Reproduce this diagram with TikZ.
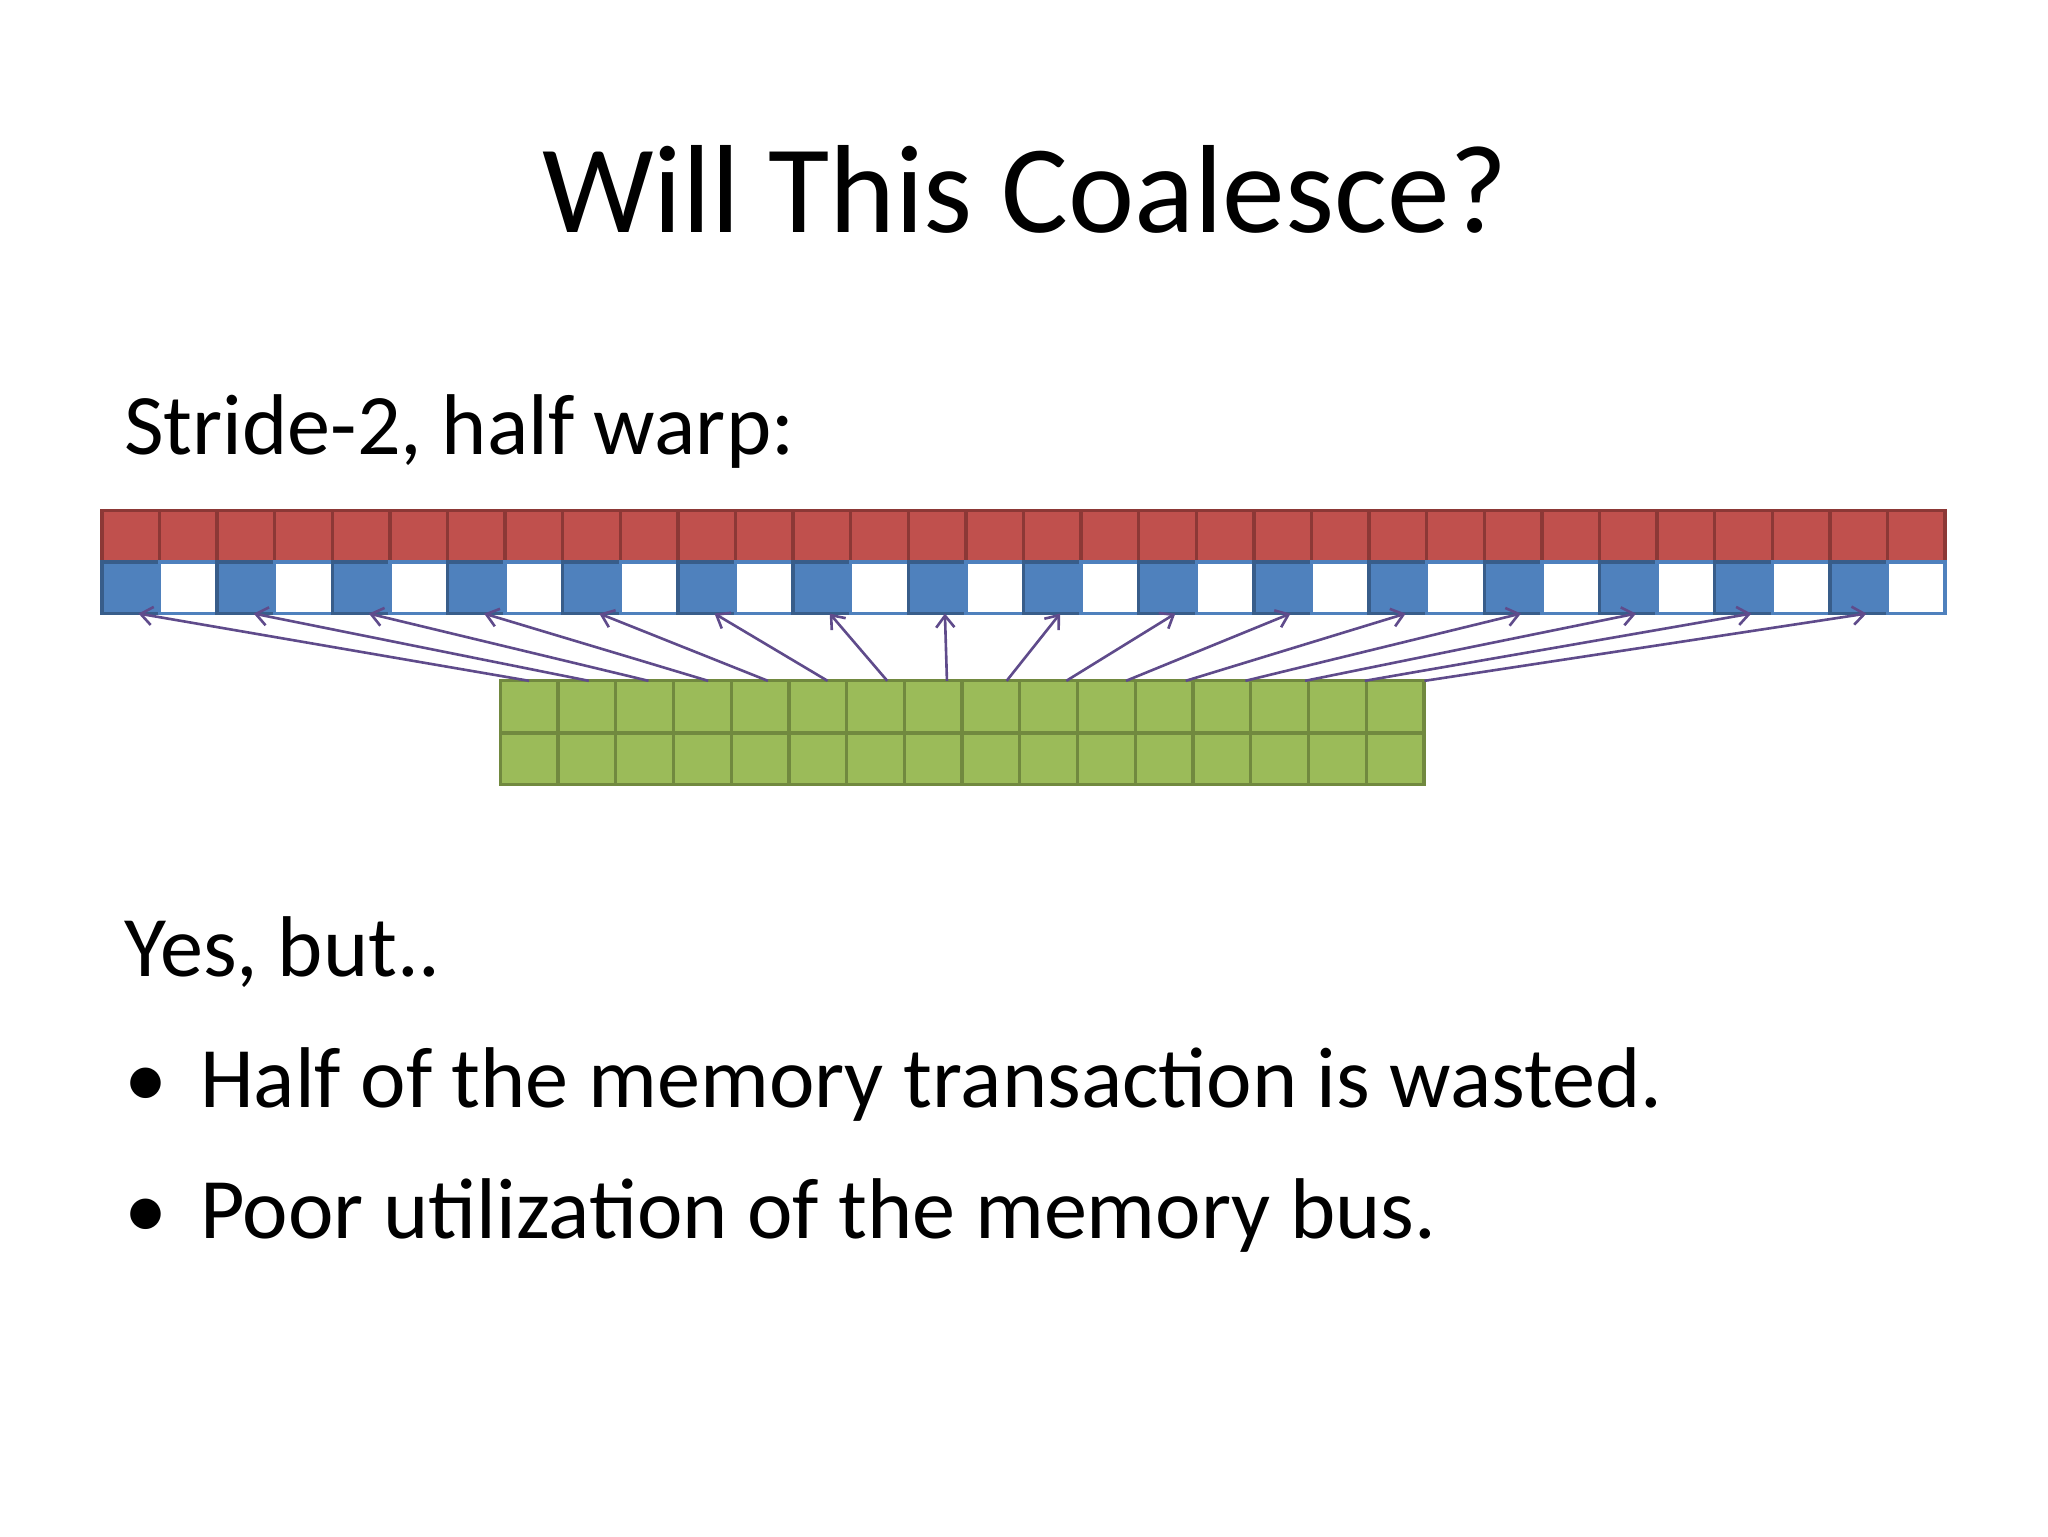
\documentclass[tikz,border=0pt]{standalone}
\usepackage{fontspec}
\setmainfont{Carlito}
\usetikzlibrary{arrows.meta}
\definecolor{redc}{HTML}{C0504D}\definecolor{redd}{HTML}{8C3836}
\definecolor{bluec}{HTML}{4F81BD}\definecolor{blued}{HTML}{385D8A}
\definecolor{greenc}{HTML}{9BBB59}\definecolor{greend}{HTML}{71893F}
\definecolor{arr}{HTML}{5F4B8B}
\tikzset{cell/.style={draw, line width=2.5pt, minimum width=44.1pt, minimum height=39.5pt, inner sep=0, outer sep=0},
 redcell/.style={cell, fill=redc, draw=redd},
 bluecell/.style={cell, fill=bluec, draw=blued},
 whitecell/.style={cell, fill=white, draw=bluec},
 greencell/.style={cell, fill=greenc, draw=greend, minimum width=44.2pt},
 arrow/.style={draw=arr, line width=2pt, -{Straight Barb[length=9pt,width=14pt]}},
 txt/.style={anchor=base west, inner sep=0, font=\fontsize{66}{80}\selectfont}}
\begin{document}
\begin{tikzpicture}[x=1pt,y=-1pt]
\useasboundingbox (0,0) rectangle (1568,1176);
\fill[white] (0,0) rectangle (1568,1176);
\node[inner sep=0, anchor=base, font=\fontsize{96}{110}\selectfont] (title) at (785,178) {Will This Coalesce?};
\node[txt] (sub) at (95,348) {Stride-2, half warp:};
\foreach \i in {0,...,31}{
  \node[redcell] (r\i) at ({78+22.05+44.1*\i},410.5) {};
  \pgfmathparse{int(mod(\i,2))}
  \ifnum\pgfmathresult=0
    \node[bluecell] (b\i) at ({78+22.05+44.1*\i},450) {};
  \else
    \node[whitecell] (b\i) at ({78+22.05+44.1*\i},450) {};
  \fi
}
\foreach \i in {0,...,15}{
  \node[greencell] (g\i) at ({383+22.1+44.2*\i},541) {};
  \node[greencell] (h\i) at ({383+22.1+44.2*\i},581) {};
}
\foreach \i in {0,...,15}{
  \pgfmathtruncatemacro\j{2*\i}
  \draw[arrow] ([xshift=-22.1pt+\i*1.5pt]g\i.north east) -- ([xshift=6pt]b\j.south);
}
\node[txt] (yes) at (95,748) {Yes, but..};
\node[txt] (b1) at (95,848) {•};
\node[txt] (l1) at (153,848) {Half of the memory transaction is wasted.};
\node[txt] (b2) at (95,948) {•};
\node[txt] (l2) at (153,948) {Poor utilization of the memory bus.};
\end{tikzpicture}
\end{document}
